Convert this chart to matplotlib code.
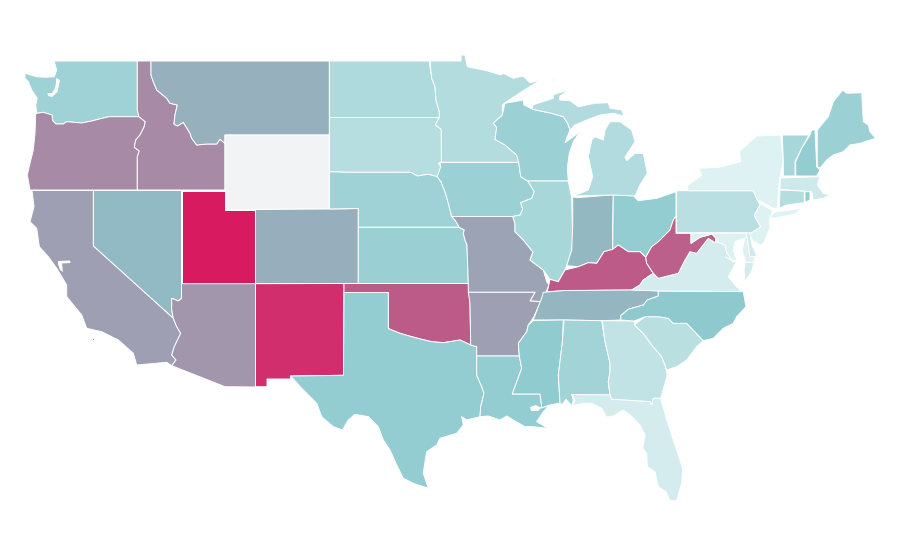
import numpy as np
import matplotlib
matplotlib.use('Agg')
import matplotlib.pyplot as plt
from matplotlib.colors import LinearSegmentedColormap

# value per state (Wyoming has no value)
states = ['WA', 'OR', 'ID', 'MT', 'WY', 'UT', 'NV', 'CA', 'AZ', 'NM', 'CO', 'ND', 'SD', 'NE', 'KS', 'OK', 'TX',
          'MN', 'IA', 'MO', 'AR', 'LA', 'WI', 'IL', 'IN', 'OH', 'MI', 'KY', 'TN', 'MS', 'AL', 'GA', 'FL', 'SC',
          'NC', 'VA', 'WV', 'MD', 'DE', 'PA', 'NY', 'NJ', 'CT', 'RI', 'MA', 'VT', 'NH', 'ME']
values = [31, 61.4, 61.4, 48.6, np.nan, 100, 45, 54.5, 57.6, 93, 49, 24, 20.5, 31, 33.5, 78, 36,
          22, 33, 53, 54.5, 36, 33, 27, 46, 36, 23, 78, 46.5, 38.6, 30, 15, 7, 19.5,
          39.5, 7, 76, 2, 9, 19, 1.4, 1.4, 21, 36, 10, 27, 36, 33]

# state outlines in picture pixels, there is no map data in the sandbox
outlines = {
    'WA': [[(54, 61), (137.3, 61), (137.3, 110), (139, 116.7), (109, 116.7), (99.3, 119), (91.7, 121), (81.7, 123),
            (66.7, 121.7), (63.3, 124), (56, 124), (52.7, 120.7), (52, 115), (43.3, 112.3), (36.7, 113.3), (35.7, 105),
            (37.3, 98.3), (31.7, 90), (28.3, 81.7), (25, 78.3), (25, 73.3), (36.7, 76.7), (46, 77.3), (54.3, 76.7),
            (56.7, 70)]],
    'OR': [[(35.7, 113.5), (43.3, 112.3), (52, 115), (52.7, 120.7), (56, 124), (63.3, 124), (66.7, 121.7), (81.7, 123),
            (91.7, 121), (99.3, 119), (109, 116.7), (139, 116.7), (145.3, 121.7), (144, 127.3), (140, 135),
            (135.7, 140), (134.3, 147.3), (139.3, 151), (137.3, 156.7), (137.3, 190), (30, 190), (27.3, 175),
            (30, 163.3), (33.3, 150), (35, 133.3)]],
    'ID': [[(137.3, 61), (151, 61), (151, 75), (153.3, 81.7), (156.7, 90), (166.7, 98.3), (170, 103.3), (177.3, 105),
            (175, 115), (174, 124), (177.3, 126), (183.3, 122.3), (190, 133.3), (191.7, 138.3), (196.7, 145),
            (206.7, 144), (216.7, 144), (220, 139.3), (225, 143.3), (225, 190), (137.3, 190), (137.3, 156.7),
            (139.3, 151), (134.3, 147.3), (135.7, 140), (140, 135), (144, 127.3), (145.3, 121.7), (139, 116.7),
            (137.3, 110)]],
    'MT': [[(151, 61), (329.3, 61), (329.3, 135), (225, 135), (225, 143.3), (220, 139.3), (216.7, 144), (206.7, 144),
            (196.7, 145), (191.7, 138.3), (190, 133.3), (183.3, 122.3), (177.3, 126), (174, 124), (175, 115),
            (177.3, 105), (170, 103.3), (166.7, 98.3), (156.7, 90), (153.3, 81.7), (151, 75)]],
    'WY': [[(225, 135), (329.3, 135), (329.3, 209), (225, 209.5)]],
    'UT': [[(181.5, 190.5), (225, 190.5), (225, 209.5), (255.5, 209.5), (255.5, 283.5), (181.5, 283.5)]],
    'NV': [[(93.3, 190.5), (181.5, 190.5), (181.5, 298.3), (178.3, 301), (171.7, 298.3), (171.7, 310), (173.3, 318.3),
            (93.3, 246)]],
    'CA': [[(32, 190.5), (93.3, 190.5), (93.3, 246), (173.3, 318.3), (176.7, 326.7), (180.7, 333.3), (174.3, 346.7),
            (171.7, 355), (176, 360), (171.7, 365.7), (166.7, 362.3), (136.7, 365), (133.3, 353.3), (118.3, 340),
            (101.7, 331.7), (86.7, 328.3), (81.7, 315), (66.7, 296.7), (66.7, 285), (56.7, 268.3), (48.3, 256.7),
            (39.3, 246.7), (36.7, 228.3), (30, 221.7), (34, 206.7)],
           [(92, 338), (94, 338), (94, 340), (92, 340)]],
    'AZ': [[(181.5, 283.7), (255.5, 283.7), (255.5, 387), (225, 386.7), (171.7, 365.7), (176, 360), (171.7, 355),
            (174.3, 346.7), (180.7, 333.3), (176.7, 326.7), (173.3, 318.3), (171.7, 310), (171.7, 298.3), (178.3, 301),
            (181.5, 298.3)]],
    'NM': [[(255.5, 283.7), (344, 283.5), (343.5, 375.3), (290.3, 376), (290.7, 379), (267, 379), (267, 386.7),
            (255.5, 386.7)]],
    'CO': [[(255.5, 209.5), (329.3, 209), (358.3, 208.5), (358.3, 283.5), (255.5, 283.5)]],
    'ND': [[(329.5, 61), (429.3, 61), (431.7, 78.3), (435, 86.7), (436, 100), (439.3, 111.7), (439.3, 117.5),
            (329.5, 117.5)]],
    'SD': [[(329.5, 117.5), (439.3, 117.5), (435.3, 125), (441.3, 129.3), (441.3, 161.7), (438.3, 163.3),
            (440.7, 166.7), (437.3, 176.7), (428.3, 174.3), (417.3, 176), (410.7, 172.3), (346, 172.3),
            (329.5, 171.7)]],
    'NE': [[(329.5, 171.7), (346, 172.3), (410.7, 172.3), (417.3, 176), (428.3, 174.3), (437.3, 176.7), (441, 181.7),
            (445, 191.7), (448.3, 203.3), (451.7, 216.5), (455, 220), (459.3, 227.3), (358.3, 227.3), (358.3, 208.5),
            (329.5, 209)]],
    'KS': [[(358.3, 227.3), (459.3, 227.3), (464.3, 230), (463.3, 233.3), (465, 240), (467, 245), (468.3, 283.5),
            (358.3, 283.5)]],
    'OK': [[(344, 283.5), (468.3, 283.5), (470, 303.3), (470.7, 345), (460, 340), (443.3, 342.7), (431.7, 341.7),
            (421.7, 339.3), (411.7, 336.7), (400, 333.3), (390, 329.3), (388.3, 328.3), (388.3, 292.5), (344, 292.5)]],
    'TX': [[(344, 292.5), (388.3, 292.5), (388.3, 328.3), (390, 329.3), (400, 333.3), (411.7, 336.7), (421.7, 339.3),
            (431.7, 341.7), (443.3, 342.7), (460, 340), (470.7, 345), (476.7, 346.7), (476.7, 375), (481.7, 386.7),
            (484, 393.3), (480.7, 406.7), (480, 416.7), (466.7, 420), (461.7, 416.7), (463.3, 425), (456.7, 433.3),
            (440, 438.3), (436.7, 445), (426.7, 451.7), (425, 461.7), (423.3, 473.3), (428.3, 488.3), (413.3, 483.3),
            (403.3, 478.3), (396.7, 465), (390, 450), (383.3, 440), (378.3, 426.7), (368.3, 416.7), (355, 414.3),
            (348.3, 420), (342.3, 430), (333.3, 426.7), (321.7, 416.7), (316.7, 403.3), (301.7, 388.3), (290.7, 376),
            (343.5, 375.3)]],
    'MN': [[(430, 61), (461, 61), (461, 55), (465, 55), (467.3, 66.7), (486.7, 70.7), (500.7, 75), (503.3, 73.3),
            (513.3, 78.3), (523.3, 76), (530, 82.7), (540.7, 80), (521.7, 91.7), (505, 102.7), (502.3, 105),
            (502.3, 115), (493.3, 123.3), (496.7, 127.3), (495, 139.3), (505, 145), (516.7, 155), (518.7, 162.3),
            (441.5, 162.3), (441.3, 129.3), (435.3, 125), (439.3, 117.5), (439.3, 111.7), (436, 100), (435, 86.7),
            (431.7, 78.3)]],
    'IA': [[(440, 162.5), (518.7, 162.5), (520.7, 176.7), (528.3, 181.7), (534.3, 191.7), (531.7, 198.3),
            (520.7, 202.7), (522.7, 209.3), (520, 215), (512.7, 216.5), (451.7, 216.5), (448.3, 203.3), (445, 191.7),
            (441, 181.7), (437.3, 176.7), (440.7, 166.7)]],
    'MO': [[(451.7, 216.5), (512.7, 216.5), (515, 223.3), (515, 231.7), (523.3, 240), (533, 252), (530, 260),
            (543.3, 270), (546.7, 281.7), (549, 285), (546, 292), (541.7, 301.7), (530, 301), (535, 292.3),
            (468.3, 292.3), (468.3, 283.5), (467, 245), (465, 240), (463.3, 233.3), (464.3, 230), (459.3, 227.3),
            (455, 220)]],
    'AR': [[(468.3, 292.3), (535, 292.3), (530, 301), (541.7, 301.7), (538.3, 306.7), (534, 316.7), (528.3, 325),
            (526.7, 331.7), (518.3, 343.3), (519.3, 356), (476.7, 356), (476.7, 346.7), (470.7, 345), (470, 303.3)]],
    'LA': [[(476.7, 356), (519.3, 356), (521.7, 368.3), (512.3, 394), (540, 394), (541.7, 406.7), (548, 406.7),
            (543.3, 411.7), (536.7, 421.7), (548.3, 428.3), (533.3, 426.7), (525, 426.7), (513.3, 420), (506.7, 416),
            (500, 420), (488.3, 416), (480, 416.7), (480.7, 406.7), (484, 393.3), (481.7, 386.7), (476.7, 375)]],
    'WI': [[(505, 103.3), (523.3, 100), (524, 105), (532.7, 109.3), (551.7, 113.3), (563.3, 116.7), (567.7, 123.3),
            (570, 130), (566.7, 138.3), (565, 142.7), (580, 131.7), (573.3, 141.7), (569.3, 153.3), (567.3, 168.3),
            (568.3, 181), (527.7, 181), (520.7, 176.7), (518.7, 162.3), (516.7, 155), (505, 145), (495, 139.3),
            (496.7, 127.3), (493.3, 123.3), (502.3, 115)]],
    'IL': [[(527.7, 181), (568.3, 181), (571.7, 198.3), (572.7, 240), (571.7, 250), (566.7, 265.7), (565, 270),
            (558.3, 281.7), (550, 279.3), (543.3, 270), (530, 260), (533, 252), (523.3, 240), (515, 231.7),
            (515, 223.3), (512.7, 216.5), (520, 215), (522.7, 209.3), (520.7, 202.7), (531.7, 198.3), (534.3, 191.7)]],
    'IN': [[(572.7, 196.7), (576.7, 197.7), (613.3, 194.8), (612.7, 223), (612.7, 249.3), (604, 251.7), (596.7, 263.3),
            (588.3, 262.7), (578.3, 266.7), (566.7, 265.7), (571.7, 250), (572.7, 226.7)]],
    'OH': [[(613.3, 195), (633.3, 195.7), (638.3, 200.7), (656.7, 198.3), (676, 191.7), (676, 216), (673.3, 220),
            (670, 230), (658.3, 243), (651.7, 246.7), (645.7, 257.3), (640, 251.7), (628.3, 251.7), (618.3, 245),
            (612.7, 249.3)]],
    'MI': [[(573.3, 196), (588.3, 190), (592.7, 176.7), (588.3, 156.7), (591.7, 140), (595, 136.7), (603.3, 140),
            (605, 130), (610, 121.7), (620, 121.7), (631.7, 130), (635, 141.7), (625, 157.3), (626.7, 160.7),
            (635, 153.3), (643.3, 153.3), (647.3, 173.3), (640, 185), (635, 196), (613.3, 195)],
           [(532.7, 105), (553.3, 98.3), (553.3, 95), (557.3, 93.3), (568.3, 90), (560, 96), (559.3, 100), (570, 100.7),
            (578.3, 106.7), (595, 103.3), (608.3, 102.7), (610, 108.3), (621.7, 110), (624, 116), (613.3, 113.3),
            (600, 115), (586.7, 120), (575, 125), (570, 130), (567.7, 123.3), (563.3, 116.7), (551.7, 113.3),
            (532.7, 109.3)],
           [(549.3, 81.7), (555, 78.3), (556, 79), (551, 82)]],
    'KY': [[(547.3, 291.7), (550, 279.3), (558.3, 281.7), (565, 270), (578.3, 266.7), (588.3, 262.7), (596.7, 263.3),
            (604, 251.7), (612.7, 249.3), (618.3, 245), (628.3, 251.7), (640, 251.7), (645.7, 257.3), (646.7, 263.3),
            (653.3, 273.3), (643.3, 280), (640, 285), (631.7, 290), (565, 290.7)]],
    'TN': [[(543.3, 292.3), (565, 290.5), (631.7, 290), (658.3, 290.7), (658.3, 296), (647.3, 300), (643.3, 305),
            (628.3, 309.3), (620.7, 315.7), (620.7, 320), (601.7, 320.7), (564.3, 320), (533.3, 320), (538.3, 306.7),
            (541.7, 298)]],
    'MS': [[(533.3, 320.5), (563.3, 320), (562.3, 343), (558.3, 375), (560, 403), (550, 405), (540, 408.3), (541.7, 406.7),
            (540, 394), (512.3, 394), (521.7, 368.3), (519.3, 356), (518.3, 343.3), (526.7, 331.7), (528.3, 325)]],
    'AL': [[(564, 320), (601.7, 320.7), (604.7, 340), (610, 363.3), (610, 371.7), (608.3, 381.7), (610, 395),
            (571.7, 394.5), (573.3, 400), (571.7, 405.7), (566, 399.3), (561.7, 405), (560, 403), (558.3, 375),
            (562.3, 343)]],
    'GA': [[(602.3, 320.7), (634.3, 321), (634.3, 325), (643.3, 333.3), (651.7, 345), (661.7, 356.7), (665, 365),
            (667.3, 375), (665, 383.3), (661.7, 395), (660.7, 398.3), (653.3, 398.3), (651.7, 405), (650, 401.7),
            (611.7, 399.3), (610, 395), (608.3, 381.7), (610, 371.7), (610, 363.3), (604.7, 340)]],
    'FL': [[(571.7, 394.5), (610, 395), (611.7, 399.3), (650, 401.7), (651.7, 405), (653.3, 398.3), (660.7, 398.3),
            (666.7, 420), (673.3, 440), (682.7, 468.3), (681.7, 483.3), (676.7, 500.7), (670, 500.7), (666, 491.7),
            (658.3, 486.7), (655, 471.7), (647.3, 466.7), (646.7, 453.3), (642.7, 448.3), (645, 435), (640, 425),
            (630, 415), (623.3, 410), (613.3, 416), (606.7, 417.3), (601.7, 408.3), (591.7, 403.3), (583.3, 403.3),
            (573.3, 405.7), (575, 400)]],
    'SC': [[(634.3, 325), (645, 316.7), (658.3, 316.7), (668.3, 318.3), (673.3, 323.3), (686.7, 323.3), (703.3, 340.7),
            (696.7, 346.7), (686.7, 360), (676.7, 366.7), (666.7, 370), (665, 365), (661.7, 356.7), (651.7, 345),
            (643.3, 333.3)]],
    'NC': [[(658.3, 291), (743.3, 291.5), (746, 306.7), (736.7, 316.7), (733.3, 323.3), (723.3, 328.3), (713.3, 338.3),
            (703.3, 340.7), (686.7, 323.3), (673.3, 323.3), (668.3, 318.3), (658.3, 316.7), (645, 316.7), (634.3, 321),
            (620.7, 320), (620.7, 315.7), (628.3, 309.3), (643.3, 305), (647.3, 300), (658.3, 296)]],
    'VA': [[(715.3, 242.7), (708.3, 238.3), (696.7, 253.3), (690, 251.7), (685, 260), (678.3, 273.3), (658.3, 278.3),
            (653.3, 273.3), (643.3, 280), (640, 285), (631.7, 290), (658.3, 291), (741.7, 291.5), (735, 285),
            (728.3, 276.7), (733.3, 268), (736.7, 260), (733, 262), (726.7, 252.3), (725, 245), (716.7, 241.7)],
           [(745, 262.5), (754, 262), (751.7, 271.7), (745, 281.7), (744, 270)]],
    'WV': [[(645.7, 257.3), (651.7, 246.7), (658.3, 241.7), (670, 230), (673.3, 220), (676, 216), (676, 233.3),
            (691, 233.3), (691, 243.3), (700, 237.3), (708.3, 235), (712, 234), (716, 238.3), (715.3, 242.7),
            (708.3, 238.3), (696.7, 253.3), (690, 251.7), (685, 260), (678.3, 273.3), (658.3, 278.3), (653.3, 273.3),
            (646.7, 263.3)]],
    'MD': [[(691, 233.3), (746.5, 233), (750, 256.7), (755, 256.5), (754, 262), (746, 262.5), (742, 250), (745, 238),
            (735, 241.7), (733.3, 250), (736.7, 260), (733, 262), (726.7, 252.3), (725, 245), (716.7, 241.7),
            (716, 238.3), (712, 234), (708.3, 235), (700, 237.3), (691, 243.3)]],
    'DE': [[(746.5, 233), (747, 230), (750, 232), (752, 245), (756.7, 255), (755, 256.5), (750, 256.7)]],
    'PA': [[(676.5, 190.7), (753.3, 190.7), (757.3, 200), (760, 205), (754.3, 215), (756.7, 220), (760.7, 226.7),
            (755, 232.7), (676.5, 232.7)]],
    'NY': [[(687.3, 186), (687.3, 190.7), (753.3, 190.7), (757.3, 200), (763.3, 202.7), (773.3, 208.3), (777.3, 208.3),
            (779.3, 180), (783.3, 161.7), (780.7, 135), (756.7, 136), (748.3, 143.3), (739.3, 151.7), (740.7, 161.7),
            (718.3, 167.3), (698.3, 168.3), (701.7, 175)],
           [(768, 218), (775, 212), (790, 210), (801.7, 208.3), (795, 214), (775, 218)]],
    'NJ': [[(761, 204), (773, 210.5), (769.5, 220), (770, 228), (764, 243), (760, 245.5), (752, 240), (749.5, 234),
            (760.7, 226.7), (756.7, 220), (754.3, 215), (760, 205)]],
    'CT': [[(780, 190), (804.3, 191), (804.3, 202.7), (786.7, 205), (779.3, 208.3)]],
    'RI': [[(805, 191.7), (810, 191.7), (810, 200), (805, 202.3)]],
    'MA': [[(780.5, 178), (820, 176.7), (817.3, 185), (823.3, 193.3), (830, 195), (823.3, 198.3), (813.3, 200),
            (811.7, 191.7), (780, 189.3)]],
    'VT': [[(782.3, 135), (809, 135), (801.7, 148.3), (795, 161.7), (795, 176), (783.3, 176), (783.3, 161.7)]],
    'NH': [[(811.7, 130), (815, 130), (816.7, 166.7), (820, 170), (816.7, 176), (795.7, 176), (795.7, 161.7),
            (801.7, 148.3), (810, 135)]],
    'ME': [[(817.3, 130), (828.3, 116.7), (833.3, 101.7), (842.7, 90), (846.7, 93.3), (861.7, 92.7), (863.3, 121.7),
            (868.3, 125), (870, 131.7), (875.7, 138.3), (860, 143.3), (850, 145), (843.3, 151.7), (833.3, 155),
            (826.7, 160), (820, 168.3), (817.3, 166.7)]],
}

# Puget Sound, San Francisco Bay, Potomac, Lake Pontchartrain: cut out over the fills
water = [
    [(56, 78), (60, 80), (57.5, 92), (52, 97), (48, 96), (47.5, 93), (52, 93), (55, 88), (56, 83)],
    [(58, 261), (70, 260.5), (70.5, 263), (62, 263.5), (63, 272), (60, 270), (58, 264)],
    [(725, 256.5), (735, 261), (735, 262.5), (725, 257.5)],
    [(530, 407), (536, 405), (541, 408), (538, 411), (531, 411)],
]

cmap = LinearSegmentedColormap.from_list('rate', [(0, '#e2f3f4'), (0.4, '#8cc9cd'), (1, '#d81b60')])
cmap.set_bad('#f2f3f5')

fig = plt.figure(figsize=(9, 5.6), dpi=100)
ax = fig.add_axes([0, 0, 1, 1])

for state, value in zip(states, values):
    color = cmap(np.ma.masked_invalid(value) / 100)
    for part in outlines[state]:
        ax.fill(*zip(*part), facecolor=color, edgecolor='white', linewidth=0.7, joinstyle='round')

for part in water:
    ax.fill(*zip(*part), facecolor='white', edgecolor='none')

ax.set_xlim(0, 900)
ax.set_ylim(560, 0)
ax.axis('off')

fig.savefig('out.png', dpi=100, facecolor='white')
